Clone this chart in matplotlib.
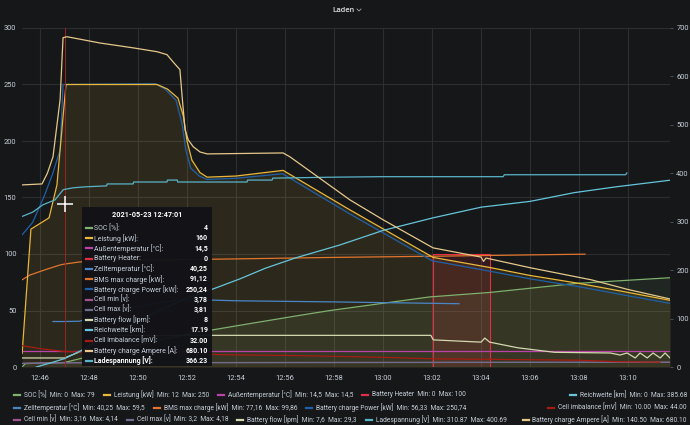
import matplotlib.pyplot as plt
from matplotlib.patches import Rectangle
from matplotlib.lines import Line2D

plt.rcParams['font.family'] = ['Roboto', 'DejaVu Sans']

BG = '#161719'
TXT = '#c7d0d9'
GRID = '#2c2e32'
W, H = 690, 425

# time axis: minutes after 12:00
x_ticks = [46, 48, 50, 52, 54, 56, 58, 60, 62, 64, 66, 68, 70]
x_labels = ['12:46', '12:48', '12:50', '12:52', '12:54', '12:56', '12:58',
            '13:00', '13:02', '13:04', '13:06', '13:08', '13:10']

# ---- left axis series ----
soc_t = [45.27, 45.4, 47.0, 48.5, 50.5, 52.0, 53.9, 56.4, 57.84, 61.9, 64.37, 67.9, 71.71]
soc_v = [0, 3, 4, 12, 22, 29, 36, 45, 50, 62, 66, 74, 79]

leistung_t = [45.27, 45.63, 46.37, 46.69, 47.06, 50.78, 51.2, 51.63, 51.85, 52.0, 52.2,
              52.53, 52.82, 54.0, 55.92, 58.65, 62.04, 64.37, 66.0, 68.0, 70.0, 71.71]
leistung_v = [12, 122, 132, 161, 250, 250, 246, 238, 222, 200, 183,
              172, 168, 169, 174, 139, 97, 88, 81, 74, 66, 59]

bcp_t = [45.27, 45.7, 46.15, 46.5, 46.82, 46.94, 50.7, 51.1, 51.55, 51.8, 51.95, 52.15,
         52.5, 52.8, 54.0, 55.9, 58.6, 62.0, 64.3, 66.0, 68.0, 70.0, 71.71]
bcp_v = [117, 128, 150, 170, 192, 250, 250.7, 246, 236, 215, 192, 176,
         169, 166, 167, 171, 136, 94, 85, 78, 71, 63, 56.3]

aussen_t = [45.27, 71.71]
aussen_v = [14.5, 14.5]

heater_t = [45.27, 62.02, 64.35, 71.71]
heater_v = [0, 100, 0, 0]

zell_t = [46.53, 47.0, 47.6, 48.5, 49.5, 50.5, 51.5, 52.5, 54.0, 58.0, 63.1]
zell_v = [40.25, 40.25, 40.5, 46, 51, 55.5, 58.8, 59.5, 58.6, 57.6, 56.0]

bms_t = [45.27, 45.59, 46.2, 46.82, 47.0, 47.63, 50.0, 53.8, 58.0, 62.0, 66.0, 68.24]
bms_v = [77.2, 81.4, 86, 90.3, 91.1, 93, 94.5, 95.6, 97, 98, 99.2, 99.86]

cell_t = [45.27, 47.0, 50.0, 55.0, 60.0, 65.0, 71.71]
cellmin_v = [3.16, 3.78, 3.85, 3.92, 4.0, 4.07, 4.14]
cellmax_v = [3.2, 3.81, 3.88, 3.95, 4.03, 4.11, 4.18]

flow_t = [45.27, 47.0, 47.8, 48.5, 61.95, 62.05, 64.0, 64.15, 64.35, 65.5, 67.0,
          69.27, 69.67, 69.96, 70.29, 70.49, 70.78, 71.02, 71.31, 71.51, 71.71]
flow_v = [8, 8, 15, 28, 28, 24, 22, 25.6, 22, 17, 13,
          12.4, 10.6, 12.4, 8, 12.4, 8, 12.4, 8, 12.4, 8]

# ---- right axis series ----
rw_t = [45.85, 46.4, 47.0, 48.0, 49.0, 50.0, 51.0, 52.0, 53.0, 54.16, 55.2, 56.41,
        58.24, 60.0, 62.04, 64.0, 66.0, 67.8, 69.5, 71.71]
rw_v = [0, 8, 17.19, 42, 68, 95, 120, 142, 160, 182, 204, 225,
        252, 282, 308, 330, 342, 360, 372, 385.68]

imb_t = [45.27, 46.0, 47.0, 48.5, 50.0, 52.0, 54.0, 56.0, 58.0, 60.0, 62.0, 64.0,
         66.0, 68.0, 69.5, 71.3]
imb_v = [44, 38, 32, 30, 29, 27, 25, 24, 22, 20, 17, 16, 15, 14, 11, 10]

amp_t = [45.27, 46.08, 46.3, 46.53, 46.82, 46.94, 47.1, 48.45, 49.8, 50.78, 51.18, 51.43,
         51.71, 51.8, 51.92, 52.05, 52.25, 52.53, 52.82, 55.92, 56.2, 58.65, 60.0, 62.04,
         64.0, 64.1, 64.2, 66.0, 68.5, 70.0, 71.71]
amp_v = [376, 378, 400, 434, 552, 680, 682, 669, 659, 651, 645, 630,
         614, 558, 490, 469, 455, 444, 440, 442, 434, 345, 304, 246,
         227, 218, 225, 205, 180, 160, 140.5]

lade_t = [45.27, 45.71, 46.12, 46.61, 46.85, 46.95, 47.35, 47.84, 48.72, 48.74, 49.8, 49.82,
          51.18, 51.2, 51.6, 51.62, 54.45, 54.47, 55.47, 55.5, 58.0, 60.0, 64.9, 64.95,
          69.9, 69.95]
lade_v = [310.87, 320, 335, 345, 360, 366.23, 370, 372, 374, 378, 378, 382,
          382, 386, 386, 382, 382, 386, 386, 390, 392, 393, 393, 397,
          397, 400.69]

cursor_t = 47.02

# colours
C_SOC = '#7EB26D'
C_LEI = '#EAB839'
C_AUS = '#BA43A9'
C_HEAT = '#E02F44'
C_ZELL = '#4A86C5'
C_BMS = '#E0752D'
C_BCP = '#1F60A8'
C_CMIN = '#A3548F'
C_CMAX = '#6E6E8C'
C_FLOW = '#D4D8B0'
C_RW = '#65C5DB'
C_IMB = '#A61C12'
C_AMP = '#E5C88A'
C_LADE = '#5AB4C8'

# legend: (name, min, max, colour); left-flowing items and the one right-aligned item per row
legend_left = [
    [('SOC [%]', '0', '79', C_SOC), ('Leistung [kW]', '12', '250', C_LEI),
     ('Außentemperatur [°C]', '14,5', '14,5', C_AUS), ('Battery Heater', '0', '100', C_HEAT)],
    [('Zelltemperatur [°C]', '40,25', '59,5', C_ZELL), ('BMS max charge [kW]', '77,16', '99,86', C_BMS),
     ('Battery charge Power [kW]', '56,33', '250,74', C_BCP)],
    [('Cell min [v]', '3,16', '4,14', C_CMIN), ('Cell max [v]', '3,2', '4,18', C_CMAX),
     ('Battery flow [lpm]', '7,6', '29,3', C_FLOW), ('Ladespannung [V]', '310.87', '400.69', C_LADE)],
]
legend_right = [('Reichweite [km]', '0', '385.68', C_RW),
                ('Cell imbalance [mV]', '10.00', '44.00', C_IMB),
                ('Battery charge Ampere [A]', '140.50', '680.10', C_AMP)]

tip_title = '2021-05-23 12:47:01'
tip_labels = ['SOC [%]:', 'Leistung [kW]:', 'Außentemperatur [°C]:', 'Battery Heater:',
              'Zelltemperatur [°C]:', 'BMS max charge [kW]:', 'Battery charge Power [kW]:',
              'Cell min [v]:', 'Cell max [v]:', 'Battery flow [lpm]:', 'Reichweite [km]:',
              'Cell imbalance [mV]:', 'Battery charge Ampere [A]:', 'Ladespannung [V]:']
tip_values = ['4', '160', '14,5', '0', '40,25', '91,12', '250,24', '3,78', '3,81', '8',
              '17.19', '32.00', '680.10', '366.23']
tip_colors = [C_SOC, C_LEI, C_AUS, C_HEAT, C_ZELL, C_BMS, C_BCP, C_CMIN, C_CMAX, C_FLOW,
              C_RW, C_IMB, C_AMP, C_LADE]


def fx(px):
    return px / W


def fy(py):
    return 1 - py / H


fig = plt.figure(figsize=(6.9, 4.25), dpi=100, facecolor=BG)
ax = fig.add_axes([fx(22), fy(367), fx(670) - fx(22), fy(28) - fy(367)])
ax.set_facecolor(BG)
ax2 = ax.twinx()

lw = 0.9
# left axis
ax.fill_between(leistung_t, leistung_v, color=C_LEI, alpha=0.11, lw=0)
ax.fill_between(soc_t, soc_v, color=C_SOC, alpha=0.1, lw=0)
ax.fill_between(heater_t, heater_v, step='post', color=C_HEAT, alpha=0.14, lw=0)
ax.plot(heater_t, heater_v, drawstyle='steps-post', color=C_HEAT, lw=0.8)
ax.plot(soc_t, soc_v, color=C_SOC, lw=lw)
ax.plot(aussen_t, aussen_v, color=C_AUS, lw=lw)
ax.plot(cell_t, cellmin_v, color=C_CMIN, lw=lw)
ax.plot(cell_t, cellmax_v, color=C_CMAX, lw=lw)
ax.plot(flow_t, flow_v, color=C_FLOW, lw=lw)
ax.plot(zell_t, zell_v, color=C_ZELL, lw=lw)
ax.plot(bms_t, bms_v, color=C_BMS, lw=lw)
ax.plot(bcp_t, bcp_v, color=C_BCP, lw=lw)
ax.plot(leistung_t, leistung_v, color=C_LEI, lw=lw)
ax.axvline(cursor_t, color='#9b2424', lw=0.7)

# right axis
ax2.plot(imb_t, imb_v, color=C_IMB, lw=lw)
ax2.plot(rw_t, rw_v, color=C_RW, lw=lw)
ax2.plot(lade_t, lade_v, color=C_LADE, lw=lw)
ax2.plot(amp_t, amp_v, color=C_AMP, lw=lw)

ax.set_xlim(45.265, 71.71)
ax.set_ylim(0, 300)
ax2.set_ylim(0, 700)
ax.set_xticks(x_ticks)
ax.set_xticklabels(x_labels)
ax.set_yticks(range(0, 301, 50))
ax2.set_yticks(range(0, 701, 100))
ax.grid(True, color=GRID, lw=0.8)
ax.set_axisbelow(True)
for a in (ax, ax2):
    for s in a.spines.values():
        s.set_visible(False)
ax.tick_params(axis='x', length=0, pad=6, labelsize=5.4, labelcolor=TXT)
ax.tick_params(axis='y', length=0, pad=4, labelsize=5.4, labelcolor=TXT)
ax2.tick_params(axis='y', length=2.5, width=0.6, color='#55585e', pad=2,
                labelsize=5.4, labelcolor=TXT)

# mouse cursor
ax.plot([cursor_t], [144], marker='+', color='white', ms=11, mew=1.1)

# title
fig.text(fx(343), fy(10), 'Laden', color='#d8d9da', fontsize=5.8, ha='center',
         va='center', fontweight='medium')
fig.add_artist(Line2D([fx(357), fx(359), fx(361)], [fy(9), fy(11), fy(9)],
                      color='#9fa7b3', lw=0.6))

# tooltip
fig.add_artist(Rectangle((fx(82), fy(366)), fx(212) - fx(82), fy(207) - fy(366),
                         transform=fig.transFigure, facecolor='#111217',
                         edgecolor='none', alpha=0.96, zorder=5))
fig.text(fx(147), fy(215), tip_title, color='white', fontsize=5.2, fontweight='bold',
         ha='center', va='center', zorder=6)
for i, (lab, val, col) in enumerate(zip(tip_labels, tip_values, tip_colors)):
    yy = 228 + i * 10.23
    bold = i == len(tip_labels) - 1
    fig.add_artist(Line2D([fx(86), fx(92)], [fy(yy), fy(yy)], color=col, lw=1.6, zorder=6))
    fig.text(fx(93.5), fy(yy), lab, color='white' if bold else TXT, fontsize=5.0,
             fontweight='bold' if bold else 'normal', ha='left', va='center', zorder=6)
    fig.text(fx(208), fy(yy), val, color='white', fontsize=5.0, fontweight='bold',
             ha='right', va='center', zorder=6)

# legend, laid out like a flowing html legend
renderer = fig.canvas.get_renderer()


def legend_str(name, mn, mx):
    return f'{name}  Min: {mn}  Max: {mx}'


def items_width(items, fs):
    w = 0
    for name, mn, mx, col in items:
        t = fig.text(0, 0, legend_str(name, mn, mx), fontsize=fs)
        w += t.get_window_extent(renderer).width
        t.remove()
    return w


# font size so that rows 1 and 3 end about where they do in the screenshot
probe = 5.0
measured = items_width(legend_left[0][:3], probe) + items_width(legend_left[2][:3], probe)
target = (355 - 14 - 30 - 18) + (360 - 14 - 30 - 18)
leg_fs = probe * target / measured

row_y = [395, 407.5, 419.5]
for ry, row, right in zip(row_y, legend_left, legend_right):
    x = 14
    for name, mn, mx, col in row:
        fig.add_artist(Line2D([fx(x), fx(x + 6)], [fy(ry), fy(ry)], color=col, lw=1.6))
        t = fig.text(fx(x + 10), fy(ry), legend_str(name, mn, mx), color=TXT,
                     fontsize=leg_fs, ha='left', va='center')
        x = t.get_window_extent(renderer).x1 + 9
    name, mn, mx, col = right
    t = fig.text(fx(687), fy(ry), legend_str(name, mn, mx), color=TXT,
                 fontsize=leg_fs, ha='right', va='center')
    x0 = t.get_window_extent(renderer).x0
    fig.add_artist(Line2D([fx(x0 - 10), fx(x0 - 4)], [fy(ry), fy(ry)], color=col, lw=1.6))

fig.savefig('out.png', dpi=100, facecolor=BG)
